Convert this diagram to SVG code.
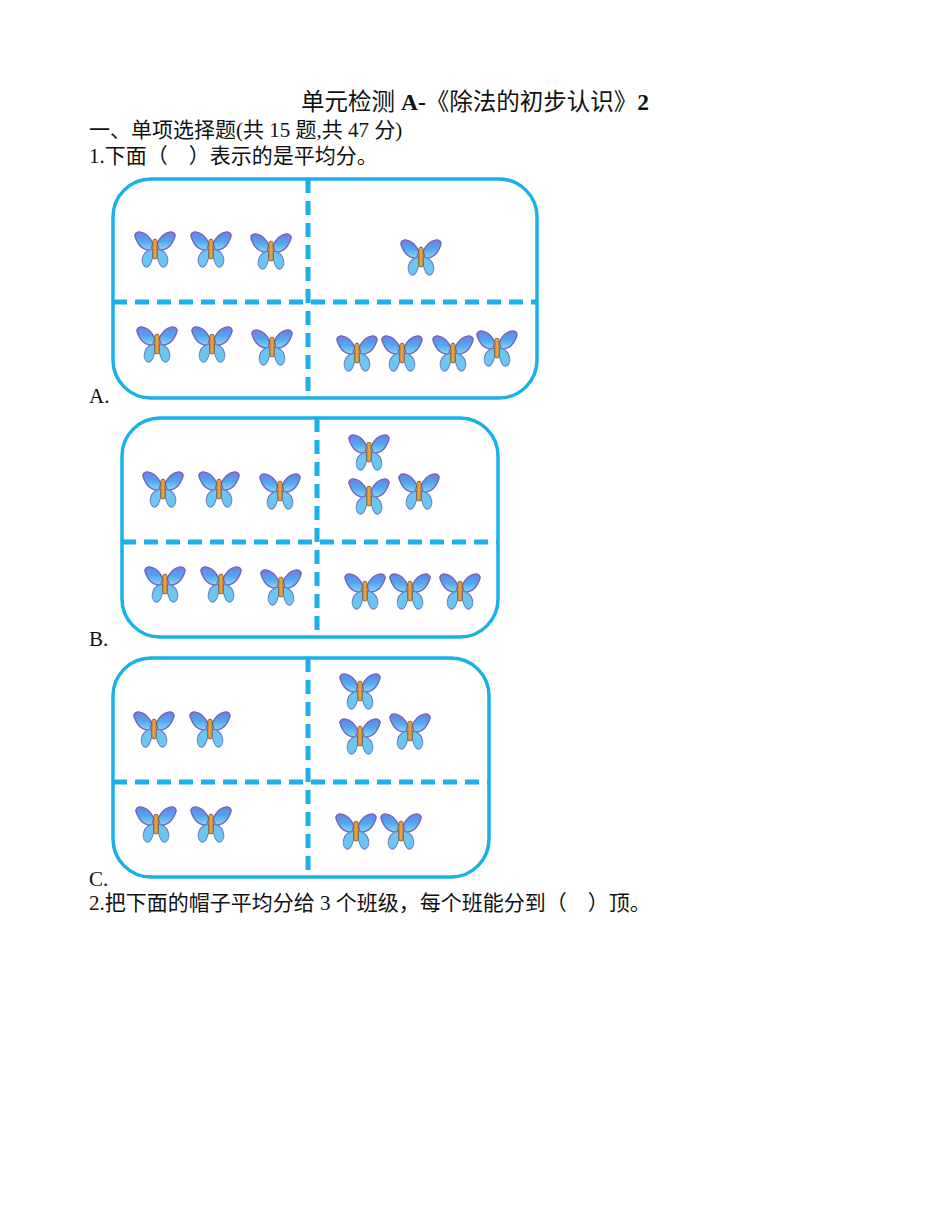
<svg xmlns="http://www.w3.org/2000/svg" xmlns:xlink="http://www.w3.org/1999/xlink" width="950" height="1230" viewBox="0 0 950 1230">
<style>
text{font-family:"Liberation Serif","Noto Sans CJK SC",serif;font-size:21px;fill:#111}
.t{font-size:23.5px}
.b{font-weight:bold}
.box{fill:none;stroke:#1ab0e8;stroke-width:3.5}
.dash{stroke:#1ab0e8;stroke-width:5;stroke-dasharray:14,8}
</style>
<defs>
<linearGradient id="wg" x1="0" y1="0" x2="0" y2="1"><stop offset="0" stop-color="#6a7fe0"/><stop offset="0.5" stop-color="#4fa8f0"/><stop offset="1" stop-color="#8fd6f8"/></linearGradient>
<symbol id="bf" viewBox="-20 -22 40 44" overflow="visible">
<path d="M-2,-4 C-8,-18 -20,-16 -18,-10 C-16,-4 -12,2 -4,2 Z" fill="url(#wg)" stroke="#7a5fb8" stroke-width="1.2"/>
<path d="M2,-4 C8,-18 20,-16 18,-10 C16,-4 12,2 4,2 Z" fill="url(#wg)" stroke="#7a5fb8" stroke-width="1.2"/>
<path d="M-2,1 C-12,2 -14,14 -9,17 C-5,19 -3,12 -2,8 Z" fill="#6cc6f2" stroke="#6a7fc8" stroke-width="1"/>
<path d="M2,1 C12,2 14,14 9,17 C5,19 3,12 2,8 Z" fill="#6cc6f2" stroke="#6a7fc8" stroke-width="1"/>
<rect x="-2" y="-8" width="4" height="18" rx="2" fill="#e8a040" stroke="#7a5a30" stroke-width="0.8"/>
</symbol>
</defs>
<text class="t" x="475" y="110" text-anchor="middle">单元检测 <tspan class="b">A-</tspan>《除法的初步认识》<tspan class="b">2</tspan></text>
<text x="89" y="137">一、单项选择题(共 15 题,共 47 分)</text>
<text x="89" y="163">1.下面（　）表示的是平均分。</text>
<g id="panelA">
<rect class="box" x="113" y="179" width="424" height="219" rx="38"/>
<line class="dash" x1="308" y1="179" x2="308" y2="398"/>
<line class="dash" x1="113" y1="302" x2="537" y2="302"/>
<use xlink:href="#bf" x="133" y="223" width="44" height="50"/><use xlink:href="#bf" x="189" y="223" width="44" height="50"/><use xlink:href="#bf" x="249" y="225" width="44" height="50"/><use xlink:href="#bf" x="399" y="231" width="44" height="50"/>
<use xlink:href="#bf" x="135" y="318" width="44" height="50"/><use xlink:href="#bf" x="190" y="318" width="44" height="50"/><use xlink:href="#bf" x="250" y="321" width="44" height="50"/><use xlink:href="#bf" x="335" y="327" width="44" height="50"/><use xlink:href="#bf" x="380" y="327" width="44" height="50"/><use xlink:href="#bf" x="431" y="327" width="44" height="50"/><use xlink:href="#bf" x="475" y="322" width="44" height="50"/>
</g>
<text x="89" y="403">A.</text>
<g id="panelB">
<rect class="box" x="122" y="418" width="376" height="219" rx="38"/>
<line class="dash" x1="317" y1="418" x2="317" y2="637"/>
<line class="dash" x1="122" y1="542" x2="498" y2="542"/>
<use xlink:href="#bf" x="141" y="463" width="44" height="50"/><use xlink:href="#bf" x="197" y="463" width="44" height="50"/><use xlink:href="#bf" x="258" y="465" width="44" height="50"/><use xlink:href="#bf" x="347" y="426" width="44" height="50"/><use xlink:href="#bf" x="347" y="470" width="44" height="50"/><use xlink:href="#bf" x="397" y="465" width="44" height="50"/>
<use xlink:href="#bf" x="143" y="558" width="44" height="50"/><use xlink:href="#bf" x="199" y="558" width="44" height="50"/><use xlink:href="#bf" x="259" y="561" width="44" height="50"/><use xlink:href="#bf" x="343" y="565" width="44" height="50"/><use xlink:href="#bf" x="388" y="565" width="44" height="50"/><use xlink:href="#bf" x="438" y="565" width="44" height="50"/>
</g>
<text x="89" y="646">B.</text>
<g id="panelC">
<rect class="box" x="113" y="658" width="376" height="219" rx="38"/>
<line class="dash" x1="308" y1="658" x2="308" y2="877"/>
<line class="dash" x1="113" y1="782" x2="489" y2="782"/>
<use xlink:href="#bf" x="132" y="703" width="44" height="50"/><use xlink:href="#bf" x="188" y="703" width="44" height="50"/><use xlink:href="#bf" x="338" y="665" width="44" height="50"/><use xlink:href="#bf" x="338" y="710" width="44" height="50"/><use xlink:href="#bf" x="388" y="705" width="44" height="50"/>
<use xlink:href="#bf" x="134" y="798" width="44" height="50"/><use xlink:href="#bf" x="189" y="798" width="44" height="50"/><use xlink:href="#bf" x="334" y="805" width="44" height="50"/><use xlink:href="#bf" x="379" y="805" width="44" height="50"/>
</g>
<text x="89" y="886">C.</text>
<text x="89" y="910">2.把下面的帽子平均分给 3 个班级，每个班能分到（　）顶。</text>
</svg>
